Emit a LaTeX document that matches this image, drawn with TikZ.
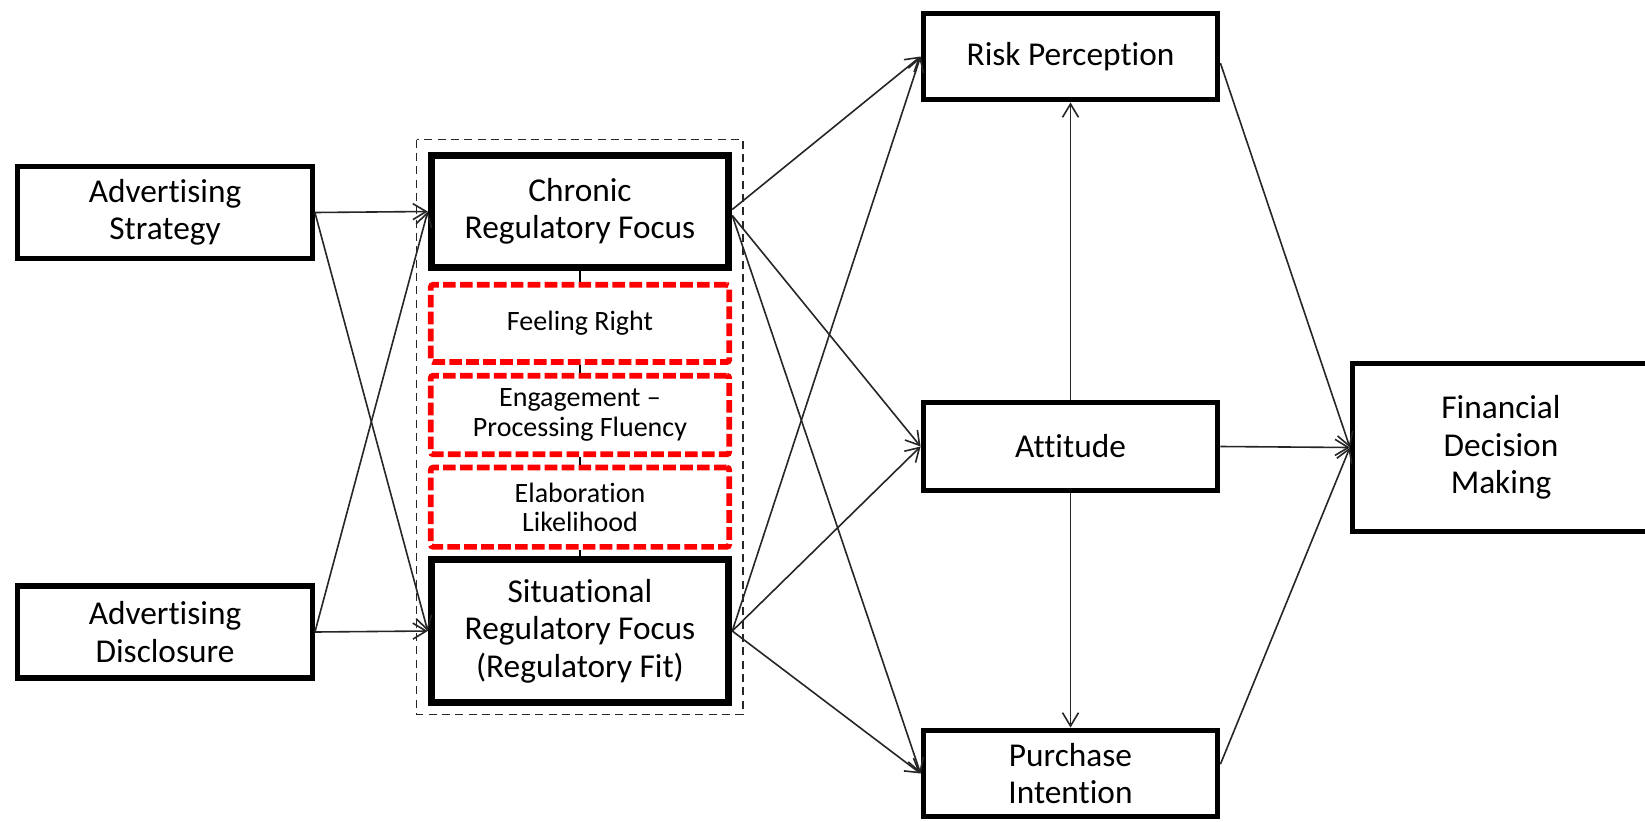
\documentclass[tikz,border=0pt]{standalone}
\usepackage{fontspec}
\setmainfont{Carlito}[Ligatures={CommonOff,ContextualOff}, Contextuals=AlternateOff]
\usetikzlibrary{arrows.meta}

\tikzset{
  box/.style={draw=black, line width=3.9pt, inner sep=0pt, align=center,
    minimum width=221pt, font=\fontsize{25}{28}\selectfont},
  bigbox/.style={box, line width=5.4pt, minimum width=223pt},
  medbox/.style={draw=red, line width=4.3pt, dash pattern=on 9.5pt off 3.2pt,
    rounded corners=2pt, inner sep=0pt, align=center,
    minimum width=224pt, minimum height=58pt,
    font=\fontsize{21}{22}\selectfont},
  link/.style={draw=black!85, line width=1.2pt,
    -{Straight Barb[length=10pt,width=12pt,line width=1.2pt]}},
  tie/.style={draw=black, line width=1.2pt},
  groupframe/.style={draw=black!85, line width=1.1pt, dash pattern=on 6pt off 4pt},
}

\begin{document}
\begin{tikzpicture}[x=0.75pt, y=-0.75pt]
  \useasboundingbox (0,0) rectangle (1645,821);
  \clip (0,0) rectangle (1645,821);
  \fill[white] (0,0) rectangle (1645,821);

  % inputs
  \node[box, minimum height=69pt] (strat) at (165,212.5) {Advertising\\Strategy};
  \node[box, minimum height=69pt] (discl) at (165,632) {Advertising\\Disclosure};

  % regulatory focus group
  \draw[groupframe] (416.7,139.5) rectangle (743,714.3);
  \node[bigbox, minimum height=84pt] (chronic) at (580,211.5) {Chronic\\Regulatory Focus};
  \node[medbox] (feel) at (580,323.4) {Feeling Right};
  \node[medbox, minimum height=59pt] (engage) at (580,415) {Engagement --\\Processing Fluency};
  \node[medbox, minimum height=59.5pt] (elab) at (580,507.2) {Elaboration\\Likelihood};
  \node[bigbox, minimum height=107pt] (situ) at (580,631) {Situational\\Regulatory Focus\\(Regulatory Fit)};

  % outcomes
  \node[box, minimum height=65pt] (risk) at (1070.5,56.5) {Risk Perception};
  \node[box, minimum height=66pt] (att) at (1070.5,446.5) {Attitude};
  \node[box, minimum height=65pt] (purch) at (1070.5,773.5) {Purchase\\Intention};
  \node[box, minimum width=222.75pt, minimum height=126pt] (fin) at (1501,447.5)
    {Financial\\Decision\\Making};

  % ties inside the group
  \draw[tie] (chronic.south) -- (feel.north);
  \draw[tie] (feel.south) -- (engage.north);
  \draw[tie] (engage.south) -- (elab.north);
  \draw[tie] (elab.south) -- (situ.north);

  % inputs to regulatory focus
  \draw[link] (strat.east) -- (chronic.west);
  \draw[link] (strat.east) -- (situ.west);
  \draw[link] (discl.east) -- (chronic.west);
  \draw[link] (discl.east) -- (situ.west);

  % regulatory focus to outcomes
  \draw[link] ([yshift=1.5pt]chronic.east) -- (risk.west);
  \draw[link] ([yshift=-3pt]chronic.east) -- (att.west);
  \draw[link] ([yshift=-3pt]chronic.east) -- (purch.west);
  \draw[link] (situ.east) -- (risk.west);
  \draw[link] (situ.east) -- (att.west);
  \draw[link] (situ.east) -- (purch.west);

  % attitude links
  \draw[link] (att.north) -- (risk.south);
  \draw[link] (att.south) -- (purch.north);

  % to financial decision making
  \draw[link] ([yshift=-5pt]risk.east) -- (fin.west);
  \draw[link] (att.east) -- (fin.west);
  \draw[link] ([yshift=7pt]purch.east) -- (fin.west);
\end{tikzpicture}
\end{document}
